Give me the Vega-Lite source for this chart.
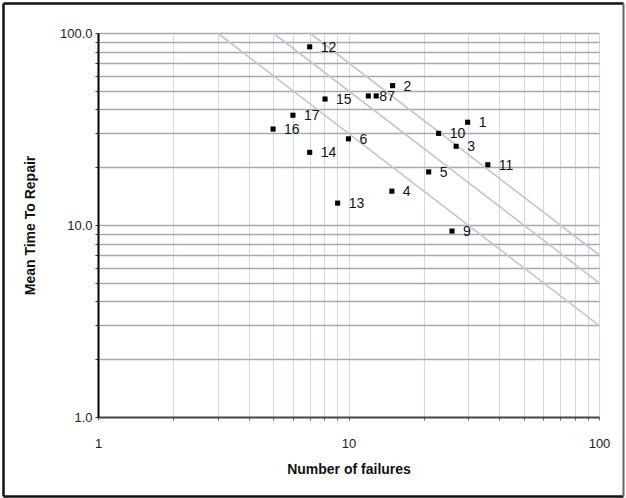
{
  "$schema": "https://vega.github.io/schema/vega-lite/v6.json",
  "width": 501,
  "height": 384,
  "autosize": "none",
  "padding": {"left": 98, "top": 33, "right": 27, "bottom": 81},
  "background": "white",
  "config": {
    "font": "Liberation Sans",
    "view": {"stroke": null},
    "axis": {"labelFont": "Liberation Sans", "titleFont": "Liberation Sans"}
  },
  "datasets": {
    "pts": [
      {"id": "1", "failures": 29.9, "mttr": 34.3},
      {"id": "2", "failures": 15.0, "mttr": 53.2},
      {"id": "3", "failures": 26.9, "mttr": 25.7},
      {"id": "4", "failures": 14.9, "mttr": 15.0},
      {"id": "5", "failures": 20.9, "mttr": 18.9},
      {"id": "6", "failures": 10.0, "mttr": 28.1},
      {"id": "7", "failures": 12.9, "mttr": 47.0},
      {"id": "8", "failures": 12.0, "mttr": 47.0},
      {"id": "9", "failures": 25.9, "mttr": 9.3},
      {"id": "10", "failures": 22.9, "mttr": 30.0},
      {"id": "11", "failures": 36.0, "mttr": 20.6},
      {"id": "12", "failures": 7.0, "mttr": 84.7},
      {"id": "13", "failures": 9.05, "mttr": 13.0},
      {"id": "14", "failures": 7.0, "mttr": 23.9},
      {"id": "15", "failures": 8.06, "mttr": 45.3},
      {"id": "16", "failures": 5.0, "mttr": 31.6},
      {"id": "17", "failures": 6.0, "mttr": 37.3}
    ],
    "iso": [
      {"k": 300, "failures": 3, "mttr": 100},
      {"k": 300, "failures": 100, "mttr": 3},
      {"k": 500, "failures": 5, "mttr": 100},
      {"k": 500, "failures": 100, "mttr": 5},
      {"k": 700, "failures": 7, "mttr": 100},
      {"k": 700, "failures": 100, "mttr": 7}
    ]
  },
  "resolve": {
    "scale": {"x": "independent", "y": "independent"},
    "axis": {"x": "independent", "y": "independent"}
  },
  "layer": [
    {
      "data": {"name": "iso"},
      "mark": {"type": "line", "color": "#c4c4d2", "strokeWidth": 1.6},
      "encoding": {
        "x": {
          "field": "failures", "type": "quantitative",
          "scale": {"type": "log", "domain": [1, 100], "nice": false},
          "axis": {
            "title": "Number of failures",
            "titleFontSize": 14, "titleFontWeight": "bold", "titleColor": "#111",
            "titlePadding": 12,
            "values": [1, 2, 3, 4, 5, 6, 7, 8, 9, 10, 20, 30, 40, 50, 60, 70, 80, 90, 100],
            "labelExpr": "(datum.value == 1 || datum.value == 10 || datum.value == 100) ? format(datum.value, 'd') : ''",
            "labelFontSize": 13, "labelColor": "#222", "labelPadding": 17,
            "labelFlush": false,
            "grid": true,
            "gridColor": {"condition": {"test": "datum.value == 1", "value": "transparent"}, "value": "#d6d6ea"},
            "gridWidth": 1,
            "domain": true,
            "domainColor": "#444", "domainWidth": 1.8,
            "ticks": true, "tickSize": 3, "tickColor": "#666"
          }
        },
        "y": {
          "field": "mttr", "type": "quantitative",
          "scale": {"type": "log", "domain": [1, 100], "nice": false},
          "axis": {
            "title": "Mean Time To Repair",
            "titleFontSize": 14, "titleFontWeight": "bold", "titleColor": "#111",
            "titlePadding": 22,
            "values": [1, 2, 3, 4, 5, 6, 7, 8, 9, 10, 20, 30, 40, 50, 60, 70, 80, 90, 100],
            "labelExpr": "(datum.value == 1 || datum.value == 10 || datum.value == 100) ? format(datum.value, '.1f') : ''",
            "labelFontSize": 13, "labelColor": "#222", "labelPadding": 3,
            "labelFlush": false,
            "grid": true,
            "gridColor": {"condition": {"test": "datum.value == 1", "value": "transparent"}, "value": "#a8a8b0"},
            "gridWidth": 1.4,
            "domain": true,
            "domainColor": "#000", "domainWidth": 2,
            "ticks": true, "tickSize": 3, "tickColor": "#333"
          }
        },
        "detail": {"field": "k", "type": "nominal"}
      }
    },
    {
      "data": {"name": "pts"},
      "mark": {"type": "point", "shape": "square", "filled": true, "color": "#000", "size": 26, "opacity": 1},
      "encoding": {
        "x": {
          "field": "failures", "type": "quantitative",
          "scale": {"type": "log", "domain": [0.4176, 124.7], "range": [-95, 525], "nice": false},
          "axis": {"orient": "top", "offset": 30, "labels": false, "ticks": false, "grid": false, "title": null,
                   "domainColor": "#111", "domainWidth": 2.5}
        },
        "y": {
          "field": "mttr", "type": "quantitative",
          "scale": {"type": "log", "domain": [0.3877, 143.3], "range": [463, -30], "nice": false},
          "axis": {"orient": "right", "offset": 24, "labels": false, "ticks": false, "grid": false, "title": null,
                   "domainColor": "#666", "domainWidth": 2}
        }
      }
    },
    {
      "data": {"name": "pts"},
      "mark": {"type": "text", "align": "left", "baseline": "middle", "dx": 11, "dy": 1, "fontSize": 14, "color": "#111"},
      "encoding": {
        "x": {
          "field": "failures", "type": "quantitative",
          "scale": {"type": "log", "domain": [0.4176, 124.7], "range": [-95, 525], "nice": false},
          "axis": {"orient": "bottom", "offset": 79, "labels": false, "ticks": false, "grid": false, "title": null,
                   "domainColor": "#111", "domainWidth": 2.5}
        },
        "y": {
          "field": "mttr", "type": "quantitative",
          "scale": {"type": "log", "domain": [0.3877, 143.3], "range": [463, -30], "nice": false},
          "axis": {"orient": "left", "offset": 95, "labels": false, "ticks": false, "grid": false, "title": null,
                   "domainColor": "#111", "domainWidth": 2.5}
        },
        "text": {"field": "id"}
      }
    }
  ]
}
